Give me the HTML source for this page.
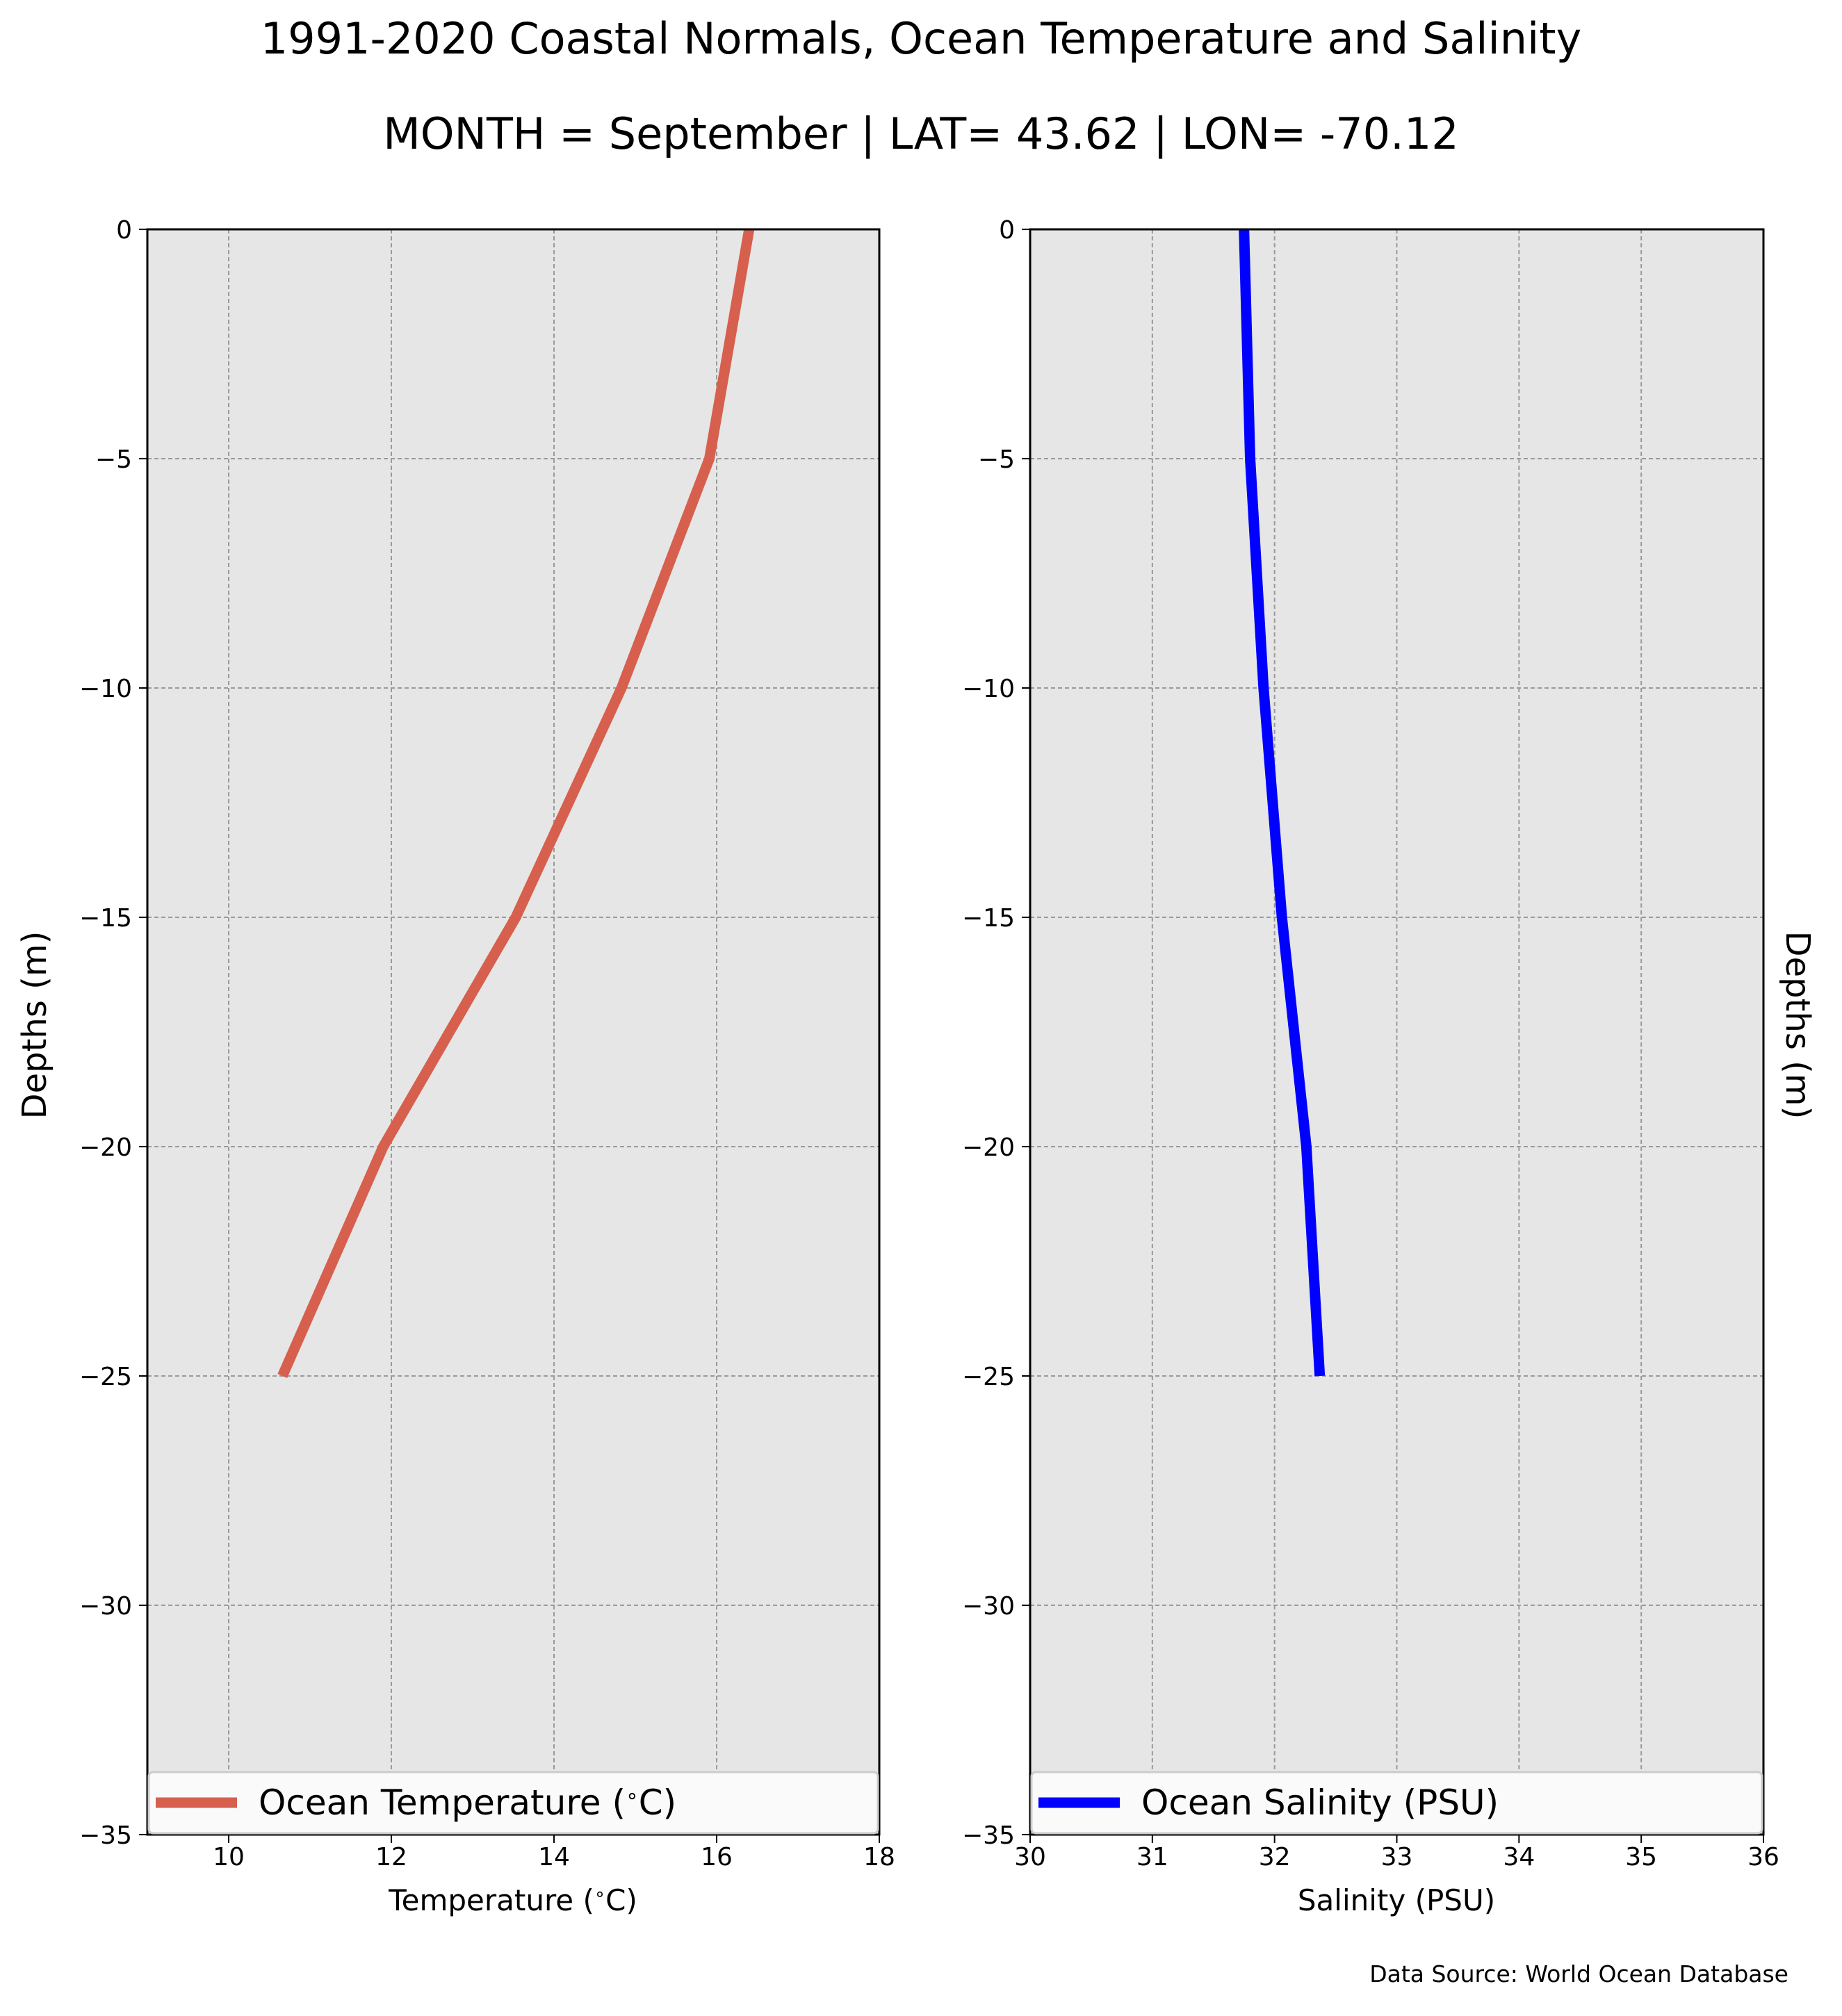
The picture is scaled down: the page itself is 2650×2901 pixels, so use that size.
<!DOCTYPE html>
<html><head><meta charset="utf-8"><style>
html,body{margin:0;padding:0;background:#fff;}
svg{display:block;font-family:"DejaVu Sans","Liberation Sans",sans-serif;}
</style></head><body>
<svg id="fig" width="2650" height="2901" viewBox="0 0 2650 2901" xmlns="http://www.w3.org/2000/svg">
<text x="1325" y="77" font-size="62" text-anchor="middle">1991-2020 Coastal Normals, Ocean Temperature and Salinity</text>
<text x="1325" y="214" font-size="62" text-anchor="middle">MONTH = September | LAT= 43.62 | LON= -70.12</text>
<g id="left"></g>
<g id="right"></g>
<text x="66" y="1475" font-size="48" text-anchor="middle" transform="rotate(-90 66 1475)">Depths (m)</text>
<text x="2570" y="1475" font-size="48" text-anchor="middle" transform="rotate(90 2570 1475)">Depths (m)</text>
<text x="738" y="2749" font-size="42" text-anchor="middle">Temperature (<tspan baseline-shift="super" font-size="26">∘</tspan>C)</text>
<text x="2009" y="2749" font-size="42" text-anchor="middle">Salinity (PSU)</text>
<text x="2573" y="2852" font-size="33" text-anchor="end">Data Source: World Ocean Database</text>
</svg>
<script>
const depths = [0, -5, -10, -15, -20, -25];
const temperature = [16.4, 15.91, 14.83, 13.53, 11.9, 10.66];
const salinity = [31.75, 31.8, 31.91, 32.06, 32.26, 32.37];
const depthTicks = [0, -5, -10, -15, -20, -25, -30, -35];
const tempTicks = [10, 12, 14, 16, 18];
const salTicks = [30, 31, 32, 33, 34, 35, 36];

const NS = "http://www.w3.org/2000/svg";
const Y0 = 330, Y1 = 2640;
function yScale(d){ return Y0 + (0 - d) / 35 * (Y1 - Y0); }
function mk(tag, attrs, parent){
  const e = document.createElementNS(NS, tag);
  for (const k in attrs) e.setAttribute(k, attrs[k]);
  parent.appendChild(e); return e;
}
function panel(g, x0, x1, xmin, xmax, xticks, xs, color, label, isTemp){
  const xScale = v => x0 + (v - xmin) / (xmax - xmin) * (x1 - x0);
  const bg = mk("rect", {x:x0, y:Y0, width:x1-x0, height:Y1-Y0, fill:"#e6e6e6"}, g);
  
  
  xticks.forEach(t => {
    const gx = mk("line", {x1:xScale(t), x2:xScale(t), y1:Y0, y2:Y1, stroke:"#9a9a9a", "stroke-width":2, "stroke-dasharray":"6,4"}, g);
    
    
    const tk = mk("line", {x1:xScale(t), x2:xScale(t), y1:Y1, y2:Y1+12, stroke:"#000", "stroke-width":2}, g);
    
    
    const tl = mk("text", {x:xScale(t), y:Y1+44, "font-size":36, "text-anchor":"middle"}, g);
    tl.textContent = t;
    
    
  });
  depthTicks.forEach(d => {
    const gy = mk("line", {x1:x0, x2:x1, y1:yScale(d), y2:yScale(d), stroke:"#9a9a9a", "stroke-width":2, "stroke-dasharray":"6,4"}, g);
    
    
    const tk = mk("line", {x1:x0-12, x2:x0, y1:yScale(d), y2:yScale(d), stroke:"#000", "stroke-width":2}, g);
    
    
    const tl = mk("text", {x:x0-22, y:yScale(d)+13, "font-size":36, "text-anchor":"end"}, g);
    tl.textContent = d === 0 ? "0" : "\u2212" + Math.abs(d);
    
    
  });
  const pts = xs.map((v,i) => xScale(v).toFixed(1) + "," + yScale(depths[i]).toFixed(1)).join(" ");
  const line = mk("polyline", {points:pts, fill:"none", stroke:color, "stroke-width":15}, g);
  
  
  const frame = mk("rect", {x:x0, y:Y0, width:x1-x0, height:Y1-Y0, fill:"none", stroke:"#000", "stroke-width":3}, g);
  
  
  const lg = mk("g", {}, g);
  
  
  mk("rect", {x:x0+2, y:2550, width:x1-x0-4, height:88, rx:6, fill:"#fafafa", stroke:"#cccccc", "stroke-width":3}, lg);
  const sw = mk("line", {x1:x0+12, x2:x0+129, y1:2594, y2:2594, stroke:color, "stroke-width":15}, lg);
  
  
  const lt = mk("text", {x:x0+160, y:2611, "font-size":50}, lg);
  
  
  if (isTemp) {
    lt.appendChild(document.createTextNode("Ocean Temperature ("));
    const s = mk("tspan", {"baseline-shift":"super", "font-size":30}, lt); s.textContent = "∘";
    const r = mk("tspan", {}, lt); r.textContent = "C)";
  } else lt.textContent = label;
}
panel(document.getElementById("left"), 212, 1265, 9, 18, tempTicks, temperature, "#d6604d", "Ocean Temperature", true);
panel(document.getElementById("right"), 1482, 2537, 30, 36, salTicks, salinity, "#0000ff", "Ocean Salinity (PSU)", false);
</script>
</body></html>
